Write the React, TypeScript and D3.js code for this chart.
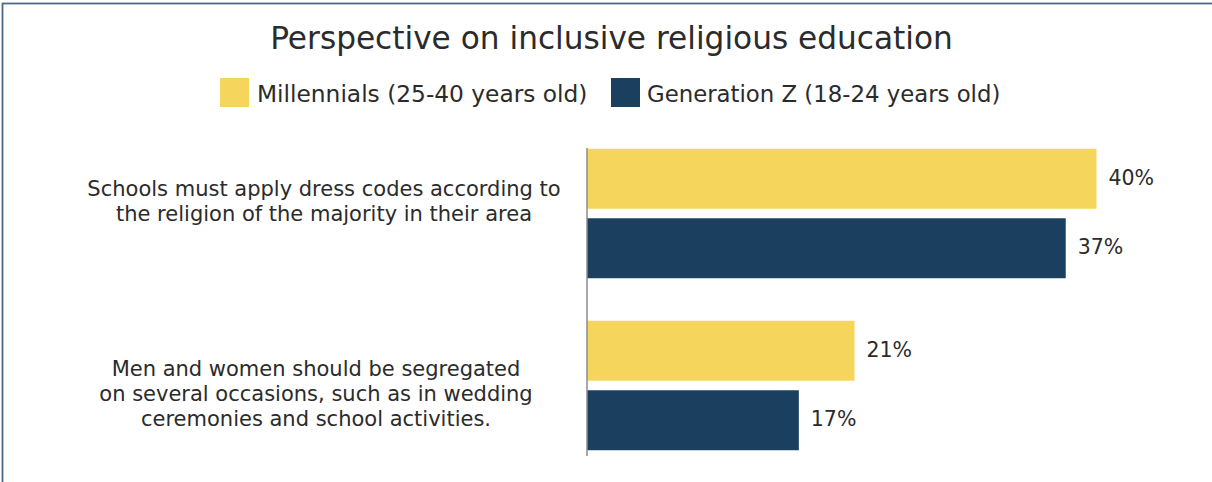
import React from "react";
import * as d3 from "d3";

// ---- data ----
const categoryLines: string[][] = [
  ["Schools must apply dress codes according to", "the religion of the majority in their area"],
  ["Men and women should be segregated", "on several occasions, such as in wedding", "ceremonies and school activities."],
];
const seriesNames = ["Millennials (25-40 years old)", "Generation Z (18-24 years old)"];
const millennials = [39.8, 20.9];
const generationZ = [37.4, 16.55];
const title = "Perspective on inclusive religious education";

// ---- style / layout constants ----
const W = 1212;
const H = 482;
const colors = ["#F5D55C", "#1A3F5F"];
const textColor = "#2b2b2b";
const FONT = "'DejaVu Sans', Verdana, sans-serif";
const labelCenterX = [324, 316];
const labelOffsetY = [-5, 15];
const lineHeight = 25;

export default function App() {
  const series = [millennials, generationZ];
  const catIdx = categoryLines.map((_, i) => i);

  const x = d3.scaleLinear().domain([0, 45]).range([587, 587 + 45 * 12.8]);
  const yOuter = d3.scaleBand<number>().domain(catIdx).range([127.5, 471.5]);
  const yInner = d3
    .scaleBand<number>()
    .domain(series.map((_, i) => i))
    .range([0, yOuter.bandwidth()])
    .paddingInner(0.137)
    .paddingOuter(0.306);
  const fmt = (v: number) => d3.format(".0f")(v) + "%";

  const [r0, r1] = yOuter.range();

  return (
    <svg
      width={W}
      height={H}
      style={{ position: "absolute", left: 0, top: 0, background: "#fff" }}
      fontFamily={FONT}
    >
      <rect x={2.5} y={3.5} width={W + 50} height={H + 50} fill="#fff" stroke="#4d6986" strokeWidth={1.8} />

      <text x={611.5} y={49} textAnchor="middle" fontSize={31.2} fill={textColor}>
        {title}
      </text>

      {/* legend */}
      <g>
        <rect x={220} y={78} width={29} height={29} fill={colors[0]} />
        <text x={257} y={102} fontSize={23.3} fill={textColor}>
          {seriesNames[0]}
        </text>
        <rect x={611} y={78} width={29} height={29} fill={colors[1]} />
        <text x={647} y={102} fontSize={22.8} fill={textColor}>
          {seriesNames[1]}
        </text>
      </g>

      {/* bars */}
      {catIdx.map((ci) => (
        <g key={ci} transform={`translate(0,${yOuter(ci)})`}>
          {series.map((vals, si) => {
            const v = vals[ci];
            const y0 = yInner(si)!;
            return (
              <g key={si}>
                <rect x={x(0)} y={y0} width={x(v) - x(0)} height={yInner.bandwidth()} fill={colors[si]} />
                <text
                  x={x(v) + 12}
                  y={y0 + yInner.bandwidth() / 2}
                  dy="0.3em"
                  fontSize={20.5}
                  fill={textColor}
                >
                  {fmt(v)}
                </text>
              </g>
            );
          })}
        </g>
      ))}

      {/* axis line */}
      <line x1={x(0)} x2={x(0)} y1={r0 + 20.5} y2={r1 - 15.5} stroke="#8c8c8c" strokeWidth={1.5} />

      {/* category labels */}
      {catIdx.map((ci) => {
        const lines = categoryLines[ci];
        const c = yOuter(ci)! + yOuter.bandwidth() / 2;
        const first = c - ((lines.length - 1) / 2) * lineHeight + labelOffsetY[ci];
        return (
          <text key={ci} x={labelCenterX[ci]} textAnchor="middle" fontSize={21} fill={textColor}>
            {lines.map((l, li) => (
              <tspan key={li} x={labelCenterX[ci]} y={first + li * lineHeight}>
                {l}
              </tspan>
            ))}
          </text>
        );
      })}
    </svg>
  );
}
